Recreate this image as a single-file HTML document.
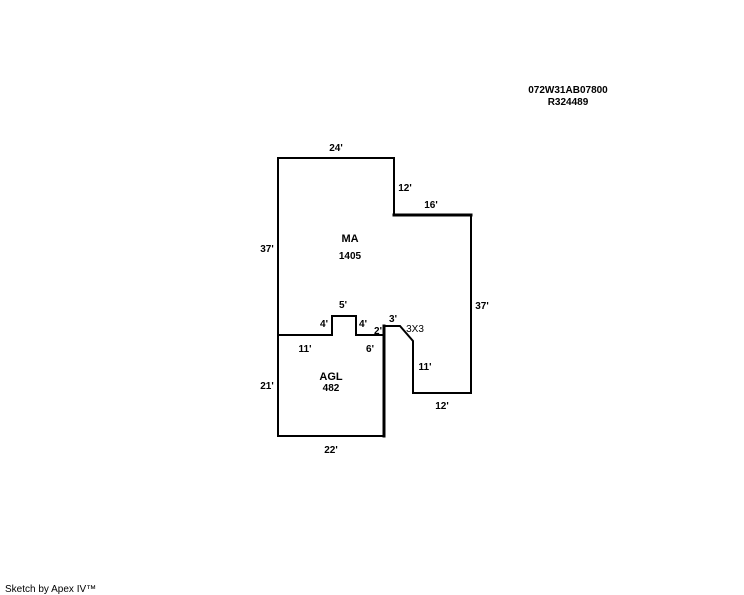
<!DOCTYPE html>
<html><head><style>
html,body{margin:0;padding:0;background:#fff;}
svg{display:block;}
text{font-family:"Liberation Sans",Arial,sans-serif;font-size:10px;font-weight:bold;fill:#000;}
</style></head><body>
<svg width="744" height="595" viewBox="0 0 744 595" xmlns="http://www.w3.org/2000/svg">
<g fill="none" stroke="#000" stroke-width="2" stroke-linecap="square">
<polyline points="278,436 278,158 394,158 394,215"/>
<polyline points="394,215 471,215" stroke-width="3"/>
<polyline points="471,215 471,393 413,393 413,341 400,326 384,326"/>
<polyline points="384,326 384,436" stroke-width="3"/>
<polyline points="384,436 278,436"/>
<polyline points="278,335 332,335 332,316 356,316 356,335 384,335"/>
</g>
<text x="568" y="93" text-anchor="middle">072W31AB07800</text>
<text x="568" y="105" text-anchor="middle">R324489</text>
<text x="336" y="151" text-anchor="middle">24'</text>
<text x="405" y="191" text-anchor="middle">12'</text>
<text x="431" y="208" text-anchor="middle">16'</text>
<text x="267" y="252" text-anchor="middle">37'</text>
<text x="350" y="242" text-anchor="middle" style="font-size:11px">MA</text>
<text x="350" y="259" text-anchor="middle">1405</text>
<text x="482" y="309" text-anchor="middle">37'</text>
<text x="343" y="308" text-anchor="middle">5'</text>
<text x="324" y="327" text-anchor="middle">4'</text>
<text x="363" y="327" text-anchor="middle">4'</text>
<text x="393" y="322" text-anchor="middle">3'</text>
<text x="382" y="334" text-anchor="end">2'</text>
<text x="415" y="332" text-anchor="middle" style="font-weight:normal">3X3</text>
<text x="305" y="352" text-anchor="middle">11'</text>
<text x="370" y="352" text-anchor="middle">6'</text>
<text x="425" y="370" text-anchor="middle">11'</text>
<text x="331" y="380" text-anchor="middle" style="font-size:11px">AGL</text>
<text x="331" y="391" text-anchor="middle">482</text>
<text x="267" y="389" text-anchor="middle">21'</text>
<text x="442" y="409" text-anchor="middle">12'</text>
<text x="331" y="453" text-anchor="middle">22'</text>
<text x="5" y="592" style="font-weight:normal;font-size:10px">Sketch by Apex IV™</text>
</svg>
</body></html>
